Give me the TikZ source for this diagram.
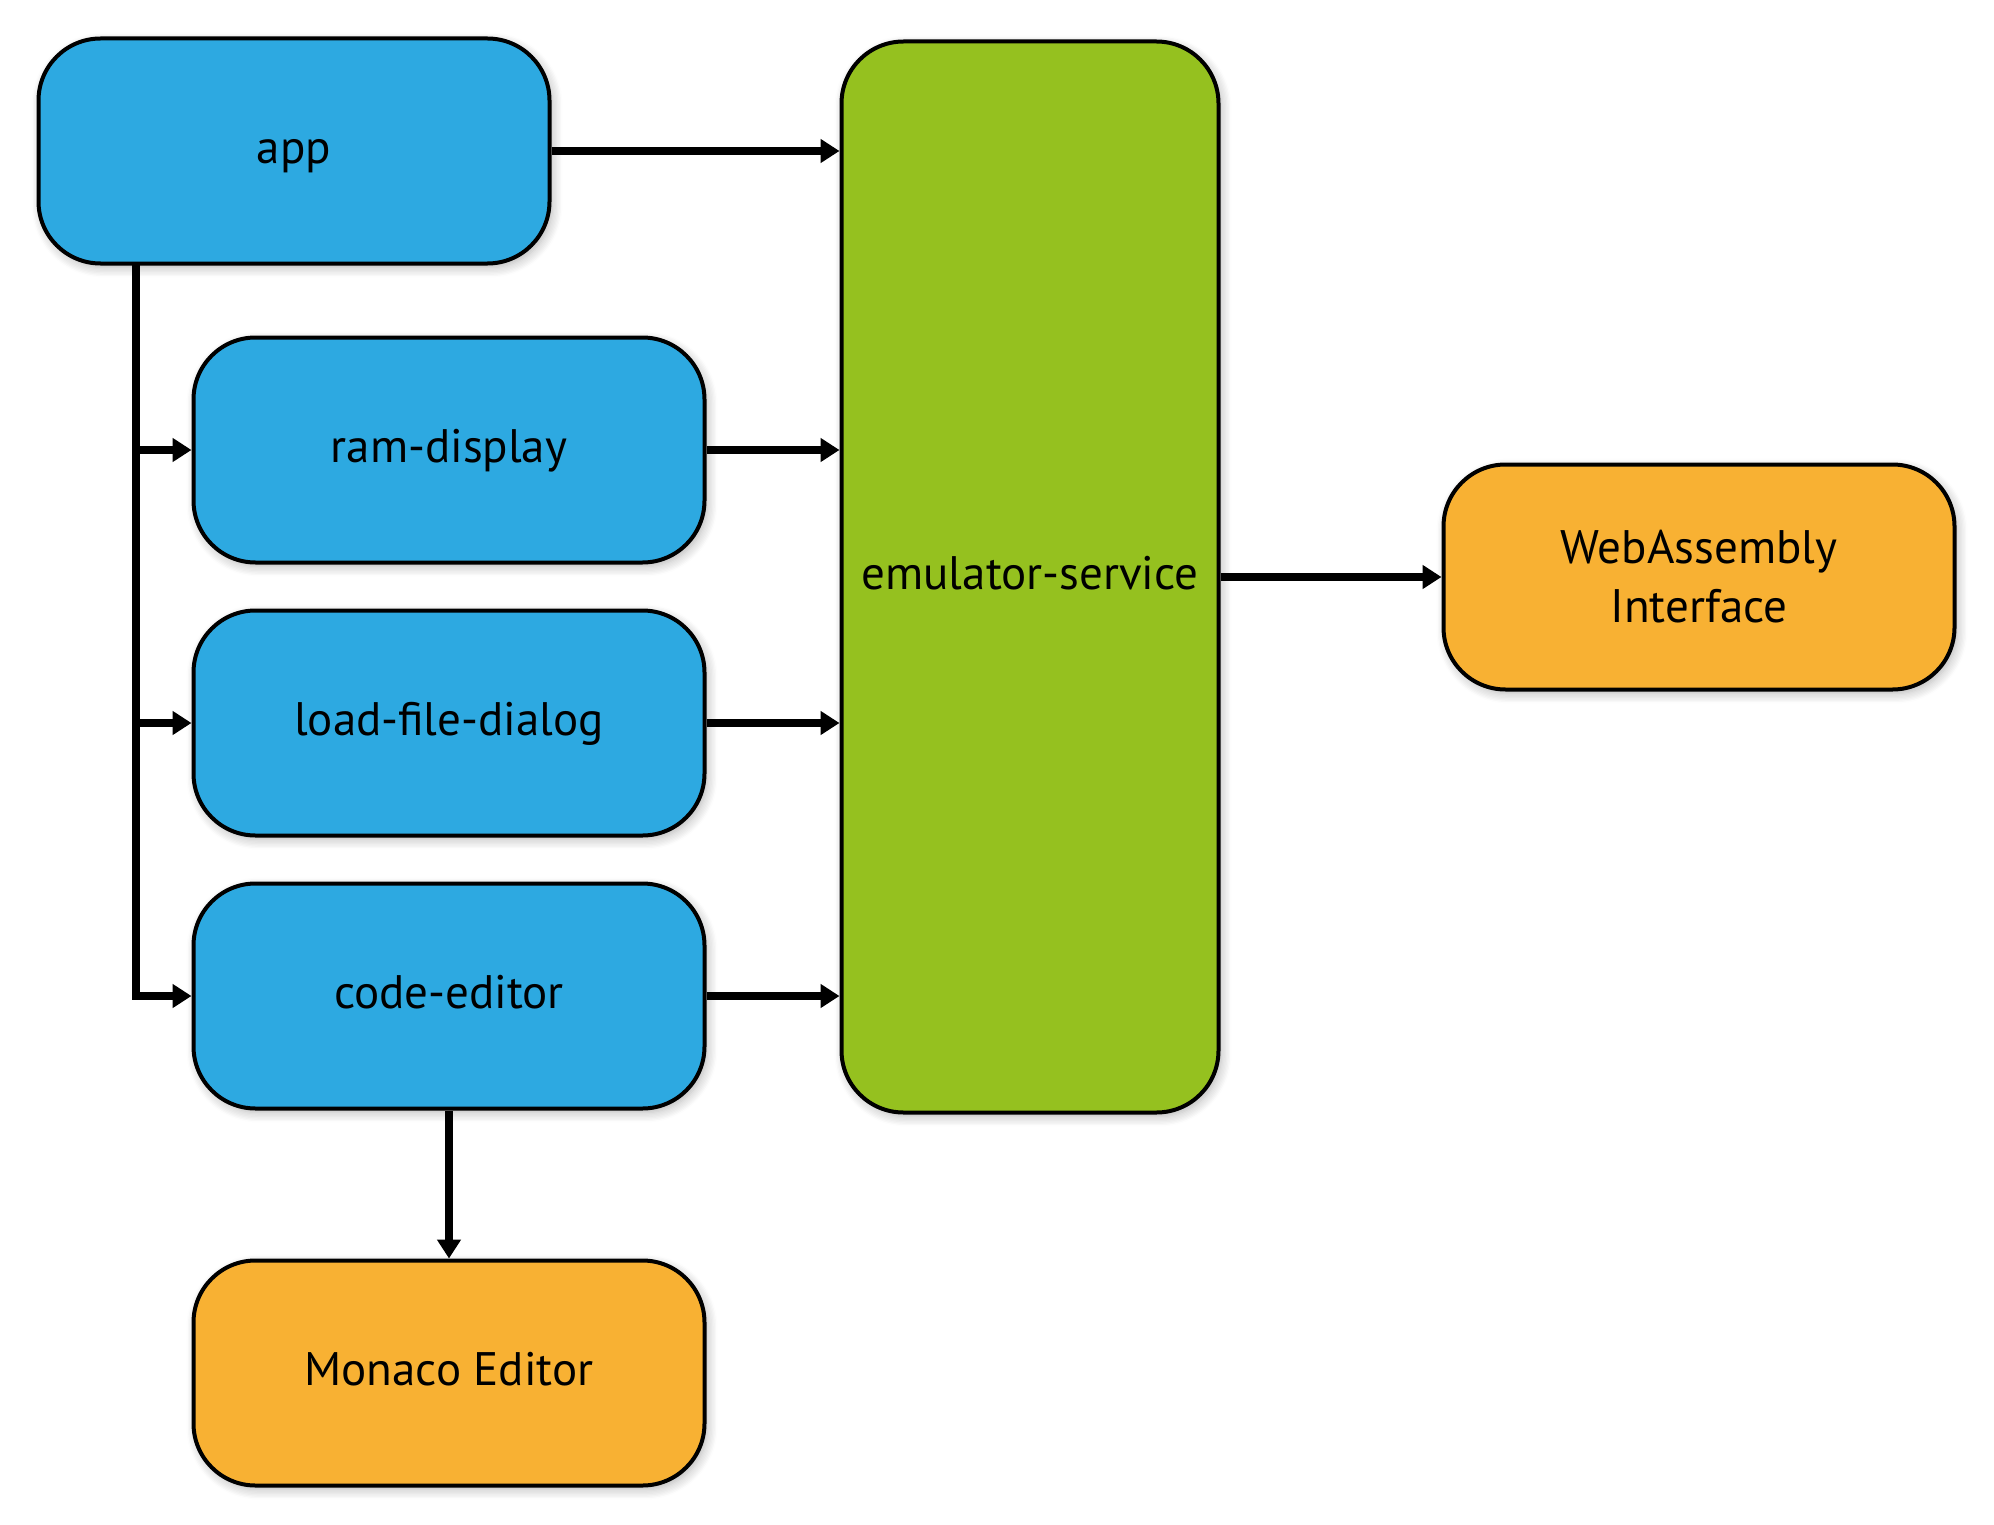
\documentclass[tikz,border=0pt]{standalone}
\usepackage{fontspec}
\setmainfont{PT Sans}
\usetikzlibrary{arrows.meta,shadows.blur}
\definecolor{cblue}{HTML}{2DA9E1}
\definecolor{cgreen}{HTML}{95C11F}
\definecolor{corange}{HTML}{F8B133}
\begin{document}
\begin{tikzpicture}[x=1pt,y=-1pt,
  box/.style={draw=black,line width=4pt,rounded corners=62pt,inner sep=0pt,
    minimum width=511pt,minimum height=225pt,align=center,
    font=\fontsize{47}{59}\selectfont,text height=34pt,text depth=9pt,
    blur shadow={shadow xshift=3pt,shadow yshift=-4pt,shadow blur steps=8,shadow blur radius=10pt,shadow opacity=30}},
  arr/.style={line width=8pt,line join=miter,-{Triangle[length=19pt,width=23pt]}}]
\useasboundingbox (0,0) rectangle (1994,1525);
\node[box,fill=cblue] (app) at (294,151) {app};
\node[box,fill=cblue] (ram) at (449,450) {ram-display};
\node[box,fill=cblue] (load) at (449,723) {load-file-dialog};
\node[box,fill=cblue] (code) at (449,996) {code-editor};
\node[box,fill=corange] (monaco) at (449,1373) {Monaco Editor};
\node[box,fill=cgreen,minimum width=377pt,minimum height=1071pt] (emu) at (1030,577) {emulator-service};
\node[box,fill=corange,text height=,text depth=] (wasm) at (1699,577) {WebAssembly\\Interface};
\coordinate (t) at (136,263);
\draw[arr] (app.east) -- (app.east -| emu.west);
\draw[arr] (ram.east) -- (ram.east -| emu.west);
\draw[arr] (load.east) -- (load.east -| emu.west);
\draw[arr] (code.east) -- (code.east -| emu.west);
\draw[arr] (emu.east |- wasm.west) -- (wasm.west);
\draw[arr] (code.south) -- (monaco.north);
\draw[arr] (t) |- (code.west);
\draw[arr] (t |- ram.west) -- (ram.west);
\draw[arr] (t |- load.west) -- (load.west);
\end{tikzpicture}
\end{document}
